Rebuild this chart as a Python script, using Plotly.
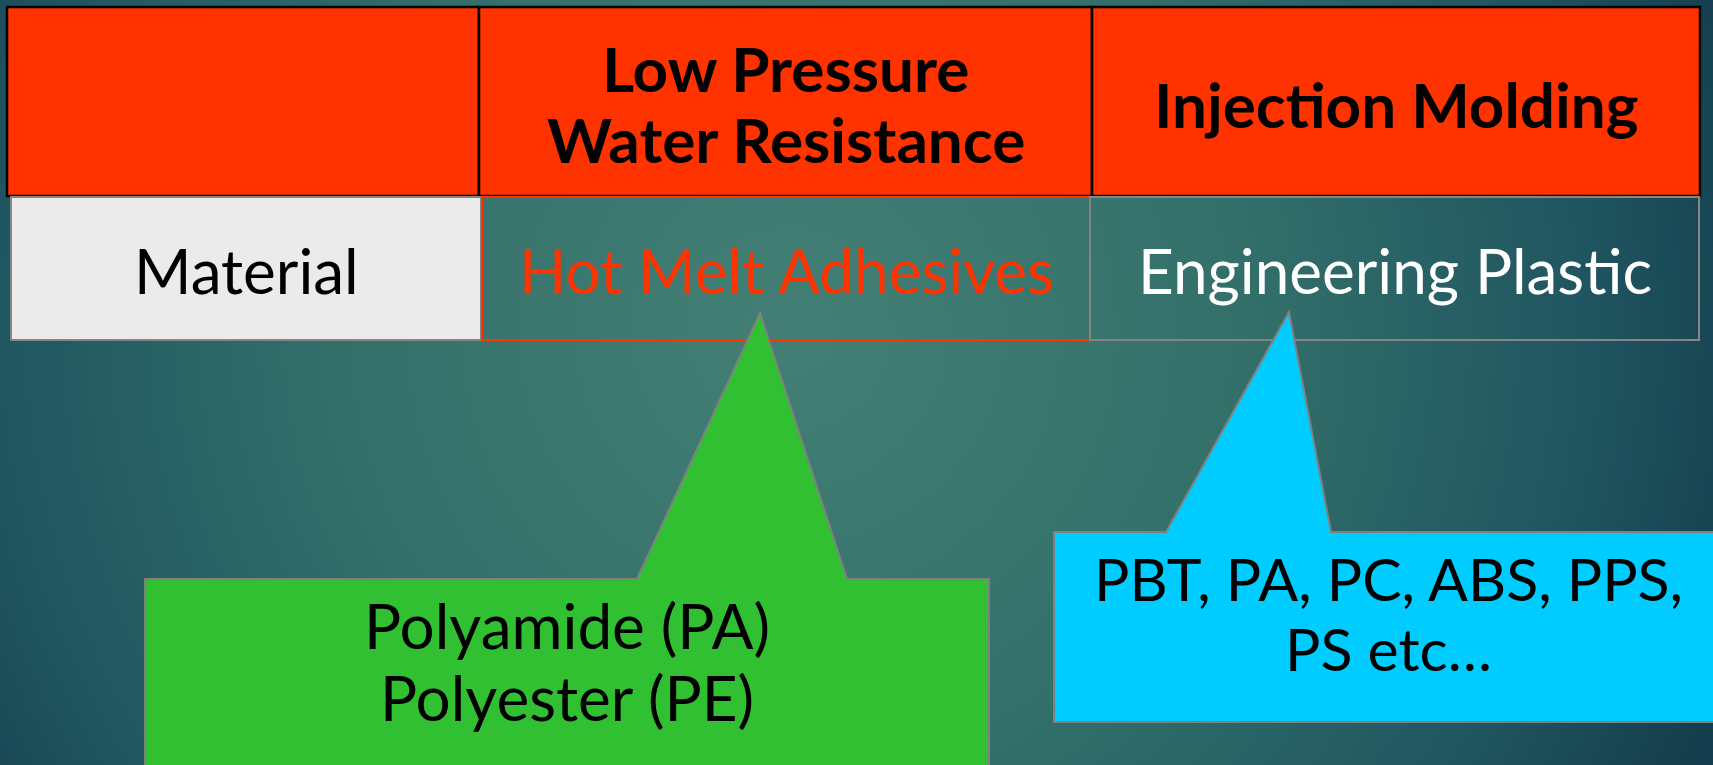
import base64
import plotly.graph_objects as go

W, H = 1713, 765

# ---- content ----
header_labels = [[], ["Low Pressure", "Water Resistance"], ["Injection Molding"]]
row_labels = ["Material", "Hot Melt Adhesives", "Engineering Plastic"]
green_lines = ["Polyamide (PA)", "Polyester (PE)"]
blue_lines = ["PBT, PA, PC, ABS, PPS,", "PS etc\u2026"]

# ---- geometry (pixel coordinates of the slide) ----
header_x = [(7, 479), (479, 1092), (1092, 1700)]
header_y = (7, 196)
row_x = [(11, 481), (482, 1090), (1090, 1699)]
row_y = (197, 340)
row_fill = ["#EBEBEB", "rgba(0,0,0,0)", "rgba(0,0,0,0)"]
row_border = ["#858585", "#FF3300", "#858585"]
row_color = ["#000000", "#FF3300", "#FFFFFF"]
header_line_y = [[], [68, 139], [104]]
green_line_y = [625, 697]
blue_line_y = [578, 648]

FONT = "Lato"

svg = f'''<svg xmlns="http://www.w3.org/2000/svg" width="{W}" height="{H}" viewBox="0 0 {W} {H}">
<defs><radialGradient id="g" gradientUnits="userSpaceOnUse" cx="790" cy="330" r="1000">
<stop offset="0" stop-color="#437f74"/>
<stop offset="0.45" stop-color="#33706a"/>
<stop offset="0.8" stop-color="#1f5560"/>
<stop offset="1" stop-color="#153d4d"/>
</radialGradient></defs>
<rect width="{W}" height="{H}" fill="url(#g)"/></svg>'''
bg_src = "data:image/svg+xml;base64," + base64.b64encode(svg.encode()).decode()

fig = go.Figure()
shapes = []
annotations = []

# header row
for (x0, x1) in header_x:
    shapes.append(dict(type="rect", x0=x0, x1=x1, y0=header_y[0], y1=header_y[1],
                       fillcolor="#FF3300", line=dict(color="#000000", width=2.5)))
for i, lines in enumerate(header_labels):
    cx = (header_x[i][0] + header_x[i][1]) / 2
    for txt, yy in zip(lines, header_line_y[i]):
        annotations.append(dict(x=cx, y=yy, text=f"<b>{txt}</b>", showarrow=False,
                                xanchor="center", yanchor="middle",
                                font=dict(family=FONT, size=62, color="#000000")))

# second row
for i, txt in enumerate(row_labels):
    x0, x1 = row_x[i]
    shapes.append(dict(type="rect", x0=x0, x1=x1, y0=row_y[0], y1=row_y[1],
                       fillcolor=row_fill[i], line=dict(color=row_border[i], width=2)))
    annotations.append(dict(x=(x0 + x1) / 2, y=270, text=txt, showarrow=False,
                            xanchor="center", yanchor="middle",
                            font=dict(family=FONT, size=62, color=row_color[i])))

# callouts
green_path = "M145,579 L637,579 L760,313 L847,579 L989,579 L989,780 L145,780 Z"
blue_path = "M1054,532 L1166,532 L1289,312 L1331,532 L1730,532 L1730,722 L1054,722 Z"
shapes.append(dict(type="path", path=green_path, fillcolor="#31C031",
                   line=dict(color="#808080", width=2)))
shapes.append(dict(type="path", path=blue_path, fillcolor="#00CCFF",
                   line=dict(color="#808080", width=2)))
for txt, yy in zip(green_lines, green_line_y):
    annotations.append(dict(x=567, y=yy, text=txt, showarrow=False,
                            xanchor="center", yanchor="middle",
                            font=dict(family=FONT, size=62, color="#000000")))
for txt, yy in zip(blue_lines, blue_line_y):
    annotations.append(dict(x=1388, y=yy, text=txt, showarrow=False,
                            xanchor="center", yanchor="middle",
                            font=dict(family=FONT, size=59, color="#000000")))

fig.update_layout(
    width=W, height=H,
    margin=dict(l=0, r=0, t=0, b=0),
    paper_bgcolor="#1f5560", plot_bgcolor="rgba(0,0,0,0)",
    xaxis=dict(range=[0, W], visible=False, fixedrange=True),
    yaxis=dict(range=[H, 0], visible=False, fixedrange=True),
    shapes=shapes, annotations=annotations, showlegend=False,
    images=[dict(source=bg_src, xref="paper", yref="paper", x=0, y=1,
                 sizex=1, sizey=1, sizing="stretch", layer="below",
                 xanchor="left", yanchor="top")],
)
fig.write_html(
    "out.html",
    config=dict(displayModeBar=False),
    post_script="document.body.style.margin='0';document.body.style.overflow='hidden';"
                "document.body.style.background='#1f5560';",
)
